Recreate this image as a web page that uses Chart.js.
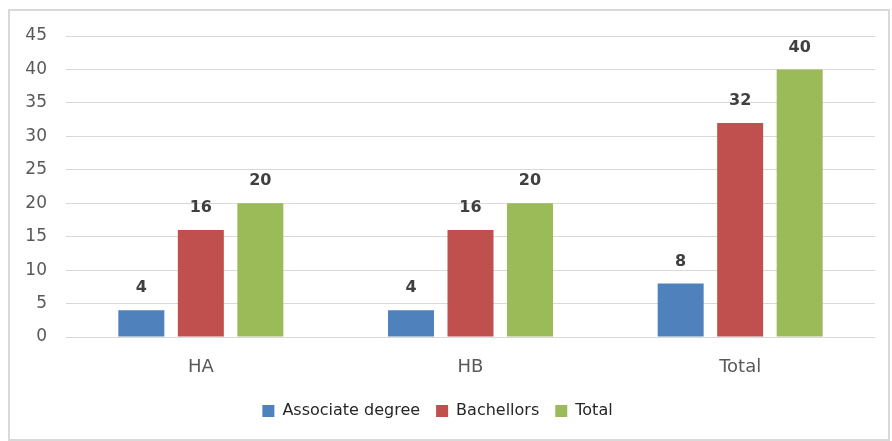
<!DOCTYPE html>
<html><head><meta charset="utf-8">
<script src="https://cdn.jsdelivr.net/npm/chart.js@4"></script>
<style>html,body{margin:0;padding:0;background:#fff;}#wrap{width:892px;height:441px;position:relative;}</style>
</head><body><div id="wrap"><canvas id="c" width="892" height="441"></canvas></div>
<script>
const categories = ["HA", "HB", "Total"];
const associateDegree = [4, 4, 8];
const bachellors = [16, 16, 32];
const totals = [20, 20, 40];
const seriesNames = ["Associate degree", "Bachellors", "Total"];
const yTicks = [0, 5, 10, 15, 20, 25, 30, 35, 40, 45];

const FONT = "'DejaVu Sans', Verdana, sans-serif";

const borderPlugin = {
  id: 'borderBox',
  beforeDraw(chart) {
    const ctx = chart.ctx;
    ctx.save();
    ctx.fillStyle = '#fff';
    ctx.fillRect(0, 0, chart.width, chart.height);
    ctx.strokeStyle = '#d9d9d9';
    ctx.lineWidth = 2;
    ctx.strokeRect(9, 10, 880, 430);
    ctx.restore();
  }
};

const labelPlugin = {
  id: 'valueLabels',
  afterDatasetsDraw(chart) {
    const ctx = chart.ctx;
    ctx.save();
    ctx.font = "bold 16px " + FONT;
    ctx.fillStyle = '#404040';
    ctx.textAlign = 'center';
    ctx.textBaseline = 'middle';
    chart.data.datasets.forEach((ds, i) => {
      const meta = chart.getDatasetMeta(i);
      meta.data.forEach((bar, j) => {
        ctx.fillText(String(ds.data[j]), bar.x, bar.y - 22);
      });
    });
    ctx.restore();
  }
};

new Chart(document.getElementById('c'), {
  type: 'bar',
  data: {
    labels: categories,
    datasets: [
      { label: seriesNames[0], data: associateDegree, backgroundColor: '#4f81bd', borderWidth: 0 },
      { label: seriesNames[1], data: bachellors, backgroundColor: '#c0504d', borderWidth: 0 },
      { label: seriesNames[2], data: totals, backgroundColor: '#9bbb59', borderWidth: 0 }
    ]
  },
  options: {
    responsive: false,
    animation: false,
    devicePixelRatio: 1,
    categoryPercentage: 0.662,
    barPercentage: 0.773,
    layout: { padding: { top: 36, right: 17, bottom: 12, left: 0 } },
    plugins: {
      legend: {
        position: 'bottom',
        labels: {
          boxWidth: 12, boxHeight: 12,
          color: '#262626',
          font: { family: FONT, size: 16 },
          padding: 16
        }
      },
      tooltip: { enabled: false }
    },
    scales: {
      x: {
        grid: { display: false },
        border: { display: false },
        ticks: { color: '#595959', font: { family: FONT, size: 18 }, padding: 12 },
        afterFit(s) { s.height = 50; }
      },
      y: {
        min: 0, max: 45,
        afterBuildTicks(s) { s.ticks = yTicks.map(v => ({ value: v })); },
        grid: { color: '#d9d9d9', drawTicks: false, lineWidth: 1 },
        border: { display: false },
        ticks: { color: '#595959', font: { family: FONT, size: 17 }, padding: 19 },
        afterFit(s) { s.width = 66; }
      }
    }
  },
  plugins: [borderPlugin, labelPlugin]
});
</script>
</body></html>
